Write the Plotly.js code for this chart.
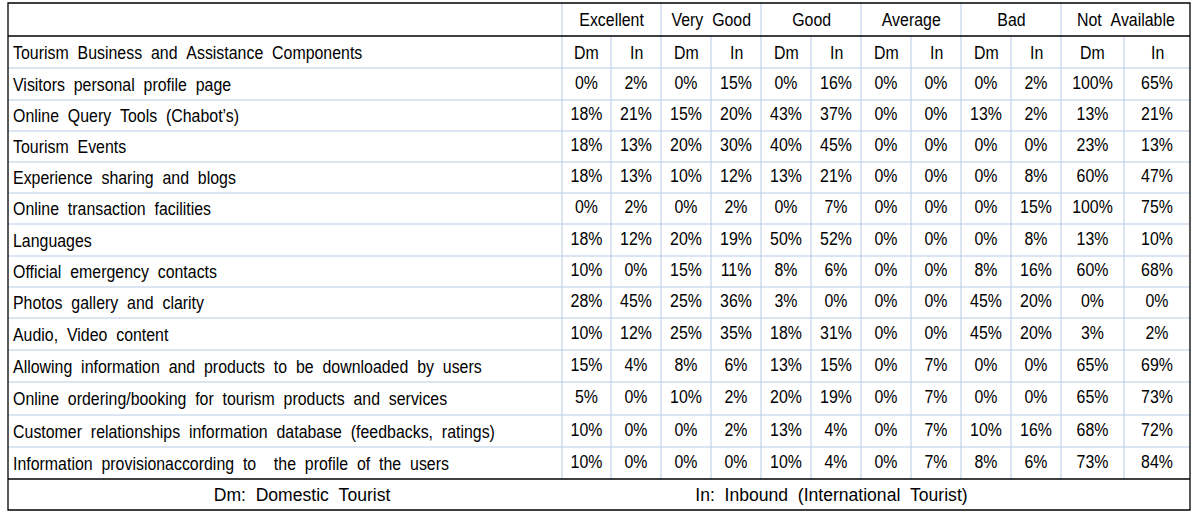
<!DOCTYPE html>
<html><head><meta charset="utf-8">
<script src="https://cdn.plot.ly/plotly-3.0.1.min.js"></script>
<style>html,body{margin:0;padding:0;background:#fff;overflow:hidden}</style>
</head><body><div id="chart" style="width:1197px;height:517px"></div>
<script>
// ---- data ----
const ratingGroups = ["Excellent", "Very Good", "Good", "Average", "Bad", "Not Available"];
const subHeaders = ["Dm", "In"];
const stubHeader = "Tourism Business and Assistance Components";
const components = [
  "Visitors personal profile page",
  "Online Query Tools (Chabot’s)",
  "Tourism Events",
  "Experience sharing and blogs",
  "Online transaction facilities",
  "Languages",
  "Official emergency contacts",
  "Photos gallery and clarity",
  "Audio, Video content",
  "Allowing information and products to be downloaded by users",
  "Online ordering/booking for tourism products and services",
  "Customer relationships information database (feedbacks, ratings)",
  "Information provisionaccording to  the profile of the users"
];
const excellentDm  = [0, 18, 18, 18, 0, 18, 10, 28, 10, 15, 5, 10, 10];
const excellentIn  = [2, 21, 13, 13, 2, 12, 0, 45, 12, 4, 0, 0, 0];
const veryGoodDm   = [0, 15, 20, 10, 0, 20, 15, 25, 25, 8, 10, 0, 0];
const veryGoodIn   = [15, 20, 30, 12, 2, 19, 11, 36, 35, 6, 2, 2, 0];
const goodDm       = [0, 43, 40, 13, 0, 50, 8, 3, 18, 13, 20, 13, 10];
const goodIn       = [16, 37, 45, 21, 7, 52, 6, 0, 31, 15, 19, 4, 4];
const averageDm    = [0, 0, 0, 0, 0, 0, 0, 0, 0, 0, 0, 0, 0];
const averageIn    = [0, 0, 0, 0, 0, 0, 0, 0, 0, 7, 7, 7, 7];
const badDm        = [0, 13, 0, 0, 0, 0, 8, 45, 45, 0, 0, 10, 8];
const badIn        = [2, 2, 0, 8, 15, 8, 16, 20, 20, 0, 0, 16, 6];
const notAvailDm   = [100, 13, 23, 60, 100, 13, 60, 0, 3, 65, 65, 68, 73];
const notAvailIn   = [65, 21, 13, 47, 75, 10, 68, 0, 2, 69, 73, 72, 84];
const footnotes = ["Dm: Domestic Tourist", "In: Inbound (International Tourist)"];

const valueColumns = [excellentDm, excellentIn, veryGoodDm, veryGoodIn, goodDm, goodIn,
  averageDm, averageIn, badDm, badIn, notAvailDm, notAvailIn];

// ---- layout geometry (pixel-like data coordinates) ----
const X_LEFT = 8, X_RIGHT = 1190;
const colEdges = [562, 611, 661, 711, 761, 811, 861, 911, 961, 1011, 1061, 1124, 1190];
const rowEdges = [3, 36, 68, 100, 131, 162, 193, 224, 256, 287, 318, 350, 382, 415, 447, 479, 510];
const FONT = {family: "'Liberation Sans', Arial, sans-serif", size: 18.5, color: "#000"};
const NARROW = 0.86, FOOT_NARROW = 0.95;
const GRID = "#b8cce4";

const mid = (a, b) => (a + b) / 2;
const rowCenter = i => mid(rowEdges[i], rowEdges[i + 1]);
const sp = s => s.replace(/ /g, "\u00a0\u00a0");

const traces = valueColumns.map((vals, c) => ({
  type: "scatter", mode: "text",
  x: vals.map(() => mid(colEdges[c], colEdges[c + 1])),
  y: vals.map((v, r) => rowCenter(r + 2)),
  text: vals.map(v => v + "%"),
  textposition: "middle center",
  textfont: FONT,
  hoverinfo: "skip", showlegend: false, cliponaxis: false
}));

const annotations = [];
const ann = (x, y, text, xanchor, scale) => annotations.push({x, y, text, xref: "x", yref: "y",
  showarrow: false, font: FONT, xanchor, yanchor: "middle", _scale: scale || NARROW});
ratingGroups.forEach((g, i) => {
  ann(mid(colEdges[2 * i], colEdges[2 * i + 2]), rowCenter(0), sp(g), "center");
  subHeaders.forEach((s, j) => ann(mid(colEdges[2 * i + j], colEdges[2 * i + j + 1]), rowCenter(1), s, "center"));
});
ann(11, rowCenter(1), sp(stubHeader), "left");
components.forEach((c, r) => ann(11, rowCenter(r + 2), sp(c), "left"));
const footY = rowCenter(rowEdges.length - 2);
ann(302, footY, sp(footnotes[0]), "center", FOOT_NARROW);
ann(831, footY, sp(footnotes[1]), "center", FOOT_NARROW);
const scales = annotations.map(a => a._scale);
annotations.forEach(a => delete a._scale);

const shapes = [];
const line = (x0, y0, x1, y1, color, w) => shapes.push({type: "line", xref: "x", yref: "y",
  x0, y0, x1, y1, line: {color, width: w}, layer: "below"});
for (let i = 2; i < rowEdges.length - 2; i++) line(X_LEFT, rowEdges[i], X_RIGHT, rowEdges[i], GRID, 1);
colEdges.slice(0, -1).forEach((x, k) => {
  const top = (k % 2 === 0) ? rowEdges[0] : rowEdges[1];
  line(x, top, x, rowEdges[rowEdges.length - 2], GRID, 1);
});
line(X_LEFT, rowEdges[1], X_RIGHT, rowEdges[1], "#000", 1.3);
line(X_LEFT, rowEdges[rowEdges.length - 2], X_RIGHT, rowEdges[rowEdges.length - 2], "#000", 1.3);
shapes.push({type: "rect", xref: "x", yref: "y", x0: X_LEFT, x1: X_RIGHT, y0: rowEdges[0],
  y1: rowEdges[rowEdges.length - 1], line: {color: "#000", width: 1.3}, fillcolor: "rgba(0,0,0,0)"});

const layout = {
  width: 1197, height: 517,
  margin: {l: 0, r: 0, t: 0, b: 0, pad: 0},
  paper_bgcolor: "#fff", plot_bgcolor: "#fff",
  xaxis: {range: [0, 1197], visible: false, fixedrange: true},
  yaxis: {range: [517, 0], visible: false, fixedrange: true},
  showlegend: false, hovermode: false,
  annotations, shapes
};
Plotly.newPlot("chart", traces, layout, {displayModeBar: false, staticPlot: true}).then(gd => {
  // condensed lettering like the original (Arial Narrow look)
  const condense = (el, origin, s) => {
    el.style.transformBox = "fill-box";
    el.style.transformOrigin = origin;
    el.style.transform = "scaleX(" + s + ")";
  };
  gd.querySelectorAll(".textpoint text").forEach(t => condense(t, "center center", NARROW));
  gd.querySelectorAll("g.annotation").forEach(g => {
    const i = +g.getAttribute("data-index");
    const t = g.querySelector("text.annotation-text");
    if (t) condense(t, annotations[i].xanchor === "left" ? "left center" : "center center", scales[i]);
  });
});
</script>
</body></html>
